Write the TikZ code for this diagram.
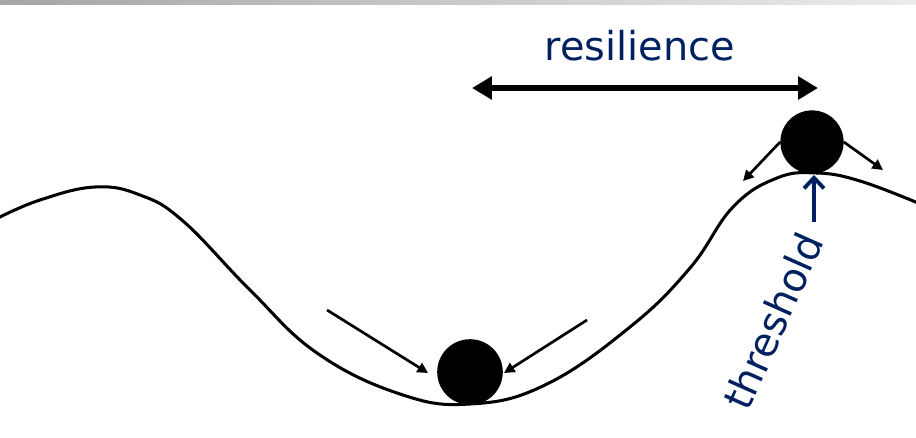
\documentclass[tikz,border=0pt]{standalone}
\usepackage{fontspec}
\setmainfont{DejaVu Sans}
\usepackage{xcolor}
\usetikzlibrary{arrows.meta, positioning}
\definecolor{navy}{RGB}{0,32,96}
\tikzset{
    ball/.style={circle, fill=black, inner sep=0pt, minimum size=#1},
    push/.style={line width=2.3pt, -{Triangle[length=9pt,width=9pt]}},
    label/.style={text=navy, font=\fontsize{34}{36}\selectfont, inner sep=0pt}
}
\begin{document}
\begin{tikzpicture}[x=0.03cm, y=-0.03cm]
    \useasboundingbox (0,0) rectangle (916,437);
    \shade[left color=gray!70, right color=gray!15] (0,0) rectangle (916,4);

    % landscape
    \draw[line width=2.6pt, line join=round] plot[smooth, tension=0.7] coordinates {
        (-2,218) (40,200) (95,187) (140,195) (183,221) (250,290) (317,353)
        (400,394) (470,404) (545,385) (630,327) (690,268) (733,207)
        (777,178) (817,173) (860,181) (918,203)};

    \node (valley) [ball=56pt] at (470,372) {};
    \node (crest)  [ball=54pt] at (812,142) {};
    \coordinate (peak) at (814,175);

    % pushes into the valley
    \coordinate (inL)  at (327,310);
    \coordinate (inLe) at (428,373);
    \coordinate (inR)  at (587,320);
    \coordinate (inRe) at (504,373);
    \draw[push] (inL) -- (inLe);
    \draw[push] (inR) -- (inRe);

    % rolling off the crest
    \coordinate (offL) at (743,181);
    \coordinate (offR) at (883,170);
    \draw[push] (crest.west) -- (offL);
    \draw[push] (crest.east) -- (offR);

    % resilience
    \coordinate (resL) at (472,88);
    \coordinate (resR) at (818,88);
    \draw[line width=4.8pt, {Triangle[length=17pt,width=19pt]}-{Triangle[length=17pt,width=19pt]}] (resL) -- (resR);
    \node (resilience) [label] at (640,46) {resilience};

    % threshold
    \coordinate (thr) at (814,222);
    \draw[navy, line width=3.3pt, -{Straight Barb[length=9pt,width=17pt,line width=3.3pt]}] (thr) -- (peak);
    \node (threshold) [label, rotate=66] at (773,321) {threshold};
\end{tikzpicture}
\end{document}
